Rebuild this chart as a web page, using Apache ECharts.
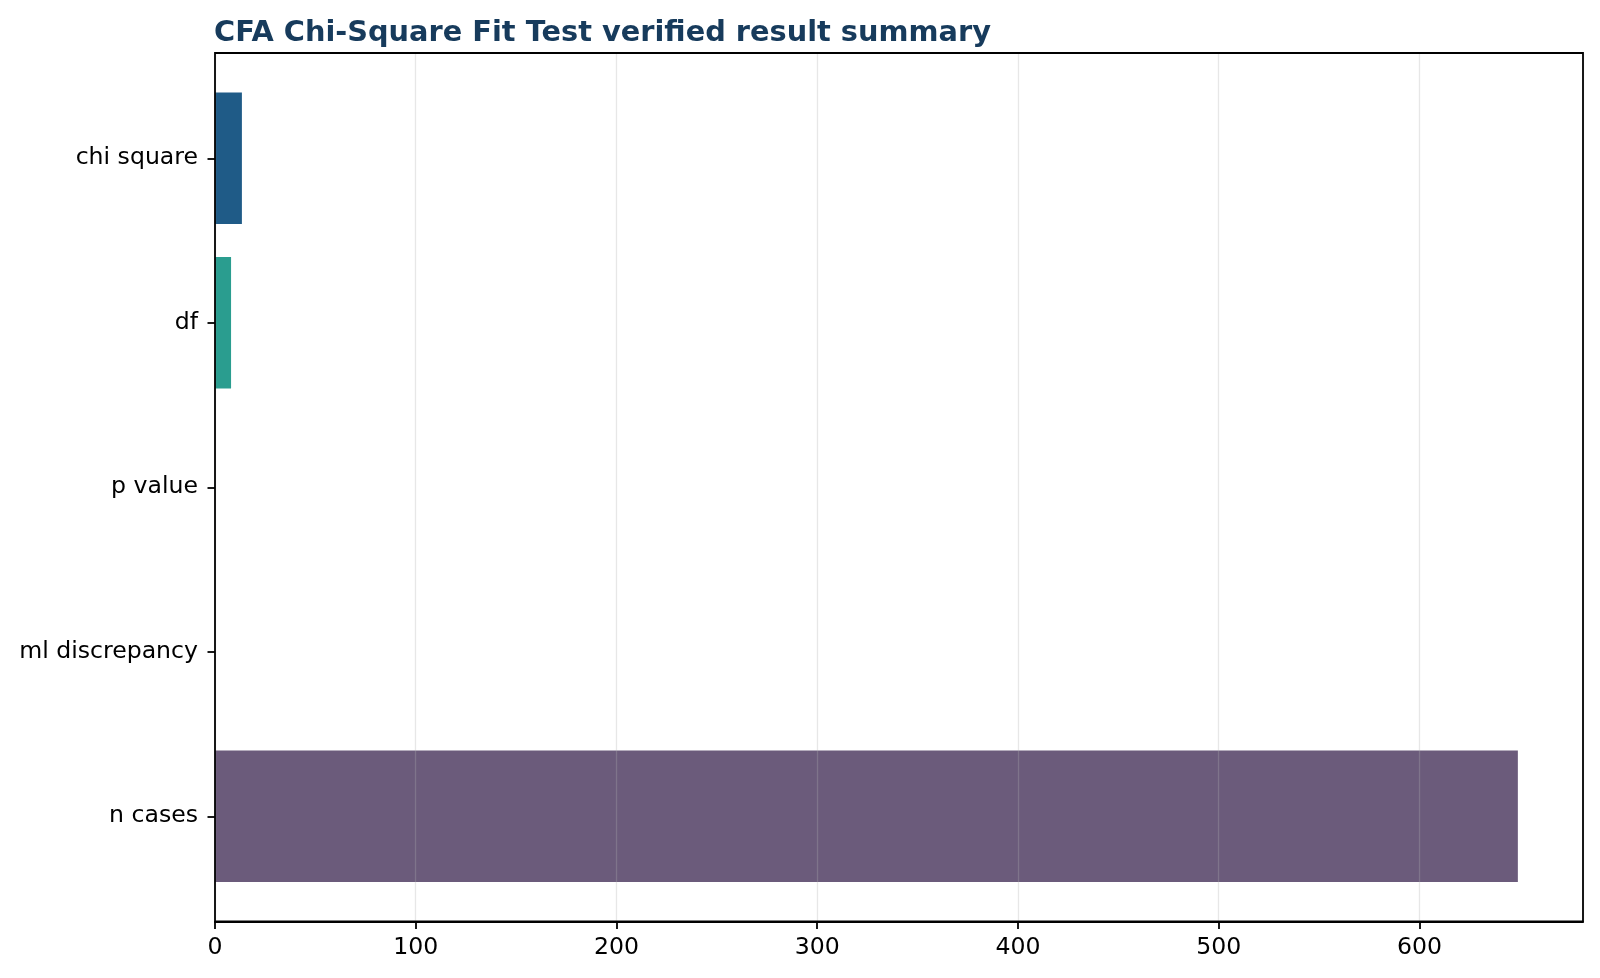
<!DOCTYPE html>
<html>
<head>
<meta charset="utf-8">
<script src="https://cdn.jsdelivr.net/npm/echarts@6/dist/echarts.min.js"></script>
<style>
html,body{margin:0;padding:0;background:#fff;}
#chart{width:1600px;height:978px;}
</style>
</head>
<body>
<div id="chart"></div>
<script>
const titleText = 'CFA Chi-Square Fit Test verified result summary';
const categories = ['chi square', 'df', 'p value', 'ml discrepancy', 'n cases'];
const values = [13.4, 8, 0.1, 0.02, 649];
const barColors = ['#1f5b87', '#2a9d8f', '#e9c46a', '#f4a261', '#6b5b7b'];
const xTicks = [0, 100, 200, 300, 400, 500, 600];
const xMax = 681.45;

const FONT = 'DejaVu Sans';
const chart = echarts.init(document.getElementById('chart'), null, {renderer: 'canvas'});

chart.setOption({
  animation: false,
  backgroundColor: '#ffffff',
  title: {
    text: titleText,
    left: 209,
    top: 14,
    textStyle: {fontFamily: FONT, fontSize: 28.8, fontWeight: 'bold', color: '#173b5c'}
  },
  grid: [
    {left: 215, right: 17, top: 53, bottom: 56.5, show: true, z: 5,
     borderColor: '#000', borderWidth: 1.8, backgroundColor: 'transparent'},
    {left: 215, right: 17, top: 76, bottom: 79.5}
  ],
  xAxis: [
    {
      type: 'value', gridIndex: 0, min: 0, max: xMax, interval: 100, z: 3,
      axisLine: {show: true, lineStyle: {color: '#000', width: 1.8}},
      axisTick: {show: true, length: 7.5, lineStyle: {color: '#000', width: 1.8}},
      axisLabel: {
        fontFamily: FONT, fontSize: 23.6, color: '#000', margin: 14.5,
        formatter: function (v) { return xTicks.indexOf(v) >= 0 ? String(v) : ''; },
        showMaxLabel: false
      },
      splitLine: {show: true, lineStyle: {color: 'rgba(176,176,176,0.3)', width: 1.3}}
    },
    {
      type: 'value', gridIndex: 1, min: 0, max: xMax, interval: 100, show: false
    }
  ],
  yAxis: [
    {type: 'value', gridIndex: 0, min: 0, max: 1, show: false},
    {
      type: 'category', gridIndex: 1, data: categories, inverse: true,
      axisLine: {show: false},
      axisTick: {show: true, alignWithLabel: true, length: 7.5, lineStyle: {color: '#000', width: 1.8}},
      axisLabel: {fontFamily: FONT, fontSize: 23.6, color: '#000', margin: 17},
      splitLine: {show: false}
    }
  ],
  series: [{
    type: 'bar',
    xAxisIndex: 1,
    yAxisIndex: 1,
    barWidth: '80%',
    data: values.map(function (v, i) {
      return {value: v, itemStyle: {color: barColors[i]}};
    })
  }]
});
</script>
</body>
</html>
